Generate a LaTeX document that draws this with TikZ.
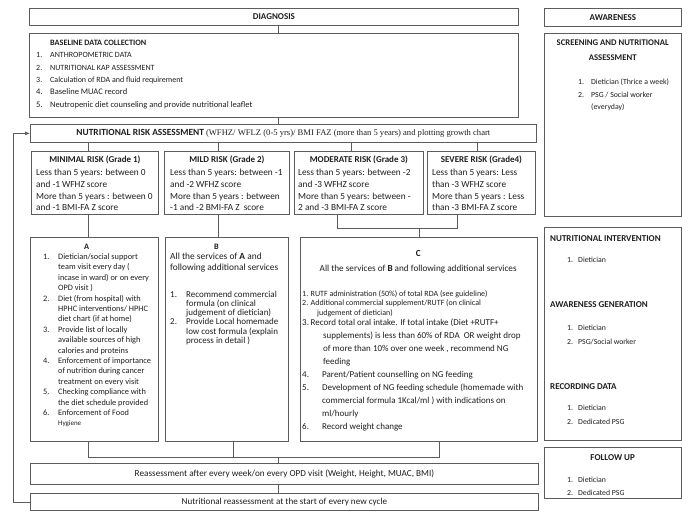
\documentclass[tikz,border=0pt]{standalone}
\usepackage{fontspec}
\setmainfont{Carlito}
\newfontfamily\timesfont{Liberation Serif}
\usetikzlibrary{arrows.meta}
\definecolor{linegray}{HTML}{5C5C5C}
\definecolor{inkgray}{HTML}{1E1E1E}
\newlength\numw
\newcommand\litem[2]{\hangindent=\numw\hangafter=1\noindent\hbox to\numw{#1\hfil}#2\par}
\newcommand\fs[2]{\fontsize{#1}{#2}\selectfont}

\begin{document}
\begin{tikzpicture}[x=1pt,y=-1pt,
  box/.style={draw=linegray,line width=0.8pt,inner sep=0pt,anchor=north west,text=inkgray},
  txt/.style={inner sep=0pt,anchor=north west,align=left,text=inkgray},
  para/.style={inner sep=0pt,anchor=north west,align=flush left,text=inkgray},
  rtitle/.style={inner sep=0pt,text=inkgray,font=\bfseries\fs{9}{11}},
  conn/.style={draw=linegray,line width=0.8pt}]
\useasboundingbox (0,0) rectangle (696,512);

% left column boxes
\node[box,minimum width=489pt,minimum height=17pt,font=\bfseries\fs{9}{11}] (diag) at (29,8) {DIAGNOSIS};
\node[box,minimum width=489pt,minimum height=84pt] (base) at (29,33) {};
\node[box,minimum width=506pt,minimum height=18pt,font=\fs{9.4}{11}] (nra) at (30,124)
  {\textbf{NUTRITIONAL RISK ASSESSMENT} {\timesfont\fs{8.6}{10}(WFHZ/ WFLZ (0-5 yrs)/ BMI FAZ (more than 5 years) and plotting growth chart}};
\node[box,minimum width=127pt,minimum height=63pt] (min) at (31,151) {};
\node[box,minimum width=125pt,minimum height=63pt] (mild) at (164,151) {};
\node[box,minimum width=129pt,minimum height=63pt] (mod) at (294,151) {};
\node[box,minimum width=108pt,minimum height=63pt] (sev) at (427,151) {};
\node[box,minimum width=128pt,minimum height=204pt] (abox) at (30,237) {};
\node[box,minimum width=123pt,minimum height=204pt] (bbox) at (165,237) {};
\node[box,minimum width=237pt,minimum height=204pt] (cbox) at (300,237) {};
\node[box,minimum width=508pt,minimum height=21pt,font=\fs{9.2}{10}] (reass) at (30,463)
  {Reassessment after every week/on every OPD visit (Weight, Height, MUAC, BMI)};
\node[box,minimum width=508pt,minimum height=17pt,font=\fs{9.1}{10}] (ren) at (30,493)
  {Nutritional reassessment at the start of every new cycle};

% right column boxes
\node[box,minimum width=137pt,minimum height=18pt,font=\bfseries\fs{9}{11}] (awr) at (544,8) {AWARENESS};
\node[box,minimum width=137pt,minimum height=183pt] (scr) at (544,33) {};
\node[box,minimum width=137pt,minimum height=213pt] (intv) at (544,227) {};
\node[box,minimum width=137pt,minimum height=51pt] (fol) at (544,447) {};

% baseline data
\node[para,text width=470pt] (baset) at (36,39.5) {\numw=14pt
  \fs{8.2}{11}\hspace*{14pt}\textbf{BASELINE DATA COLLECTION}\par
  \fs{8}{12.5}\litem{1.}{ANTHROPOMETRIC DATA}
  \litem{2.}{NUTRITIONAL KAP ASSESSMENT}
  \litem{3.}{Calculation of RDA and fluid requirement}
  \fs{8.5}{12.3}\litem{4.}{Baseline MUAC record}
  \litem{5.}{Neutropenic diet counseling and provide nutritional leaflet}};

% risk grades
\node[rtitle] (mint) at ([yshift=-9pt]min.north) {MINIMAL RISK (Grade 1)};
\node[rtitle] (mildt) at ([yshift=-9pt]mild.north) {MILD RISK (Grade 2)};
\node[rtitle] (modt) at ([yshift=-9pt]mod.north) {MODERATE RISK (Grade 3)};
\node[rtitle] (sevt) at ([yshift=-9pt]sev.north) {SEVERE RISK (Grade4)};
\node[txt,font=\fs{9.3}{11.7}] (minb) at (36,169)
  {Less than 5 years: between 0\\and -1 WFHZ score\\More than 5 years : between 0\\and -1 BMI-FA Z score};
\node[txt,font=\fs{9.3}{11.7}] (mildb) at (170,169)
  {Less than 5 years: between -1\\and -2 WFHZ score\\More than 5 years : between\\-1 and -2 BMI-FA Z\ \ score};
\node[txt,font=\fs{9.3}{11.7}] (modb) at (298,169)
  {Less than 5 years: between -2\\and -3 WFHZ score\\More than 5 years: between -\\2 and -3 BMI-FA Z score};
\node[txt,font=\fs{9.3}{11.7}] (sevb) at (432,169)
  {Less than 5 years: Less\\than -3 WFHZ score\\More than 5 years : Less\\than -3 BMI-FA Z score};

% services A, B, C
\node[para,text width=112pt] (at) at (43,243.5) {\numw=15pt
  \fs{8.3}{10.4}\hspace*{41pt}\textbf{A}\par
  \litem{1.}{Dietician/social support\newline team visit every day (\newline incase in ward) or on every\newline OPD visit )}
  \litem{2.}{Diet (from hospital) with\newline HPHC interventions/ HPHC\newline diet chart (if at home)}
  \litem{3.}{Provide list of locally\newline available sources of high\newline calories and proteins}
  \litem{4.}{Enforcement of importance\newline of nutrition during cancer\newline treatment on every visit}
  \litem{5.}{Checking compliance with\newline the diet schedule provided}
  \litem{6.}{Enforcement of Food\newline {\fs{7}{10.4}Hygiene}}};

\node[para,text width=118pt] (bt) at (170,243.5) {\numw=16pt
  \fs{8.3}{10.4}\hspace*{44pt}\textbf{B}\par
  \fs{9.4}{10.5}All the services of \textbf{A} and\newline following additional services\par\vskip18pt
  \fs{9}{9.2}\litem{1.}{Recommend commercial\newline formula (on clinical\newline judgement of dietician)}
  \litem{2.}{Provide Local homemade\newline low cost formula (explain\newline process in detail )}};

\node[para,text width=232pt] (ct) at (302,250) {
  {\centering\bfseries\fs{9.2}{11}C\par}
  {\centering\fs{9.2}{15}All the services of \textbf{B} and following additional services\par}
  \fs{8}{25}\numw=8.5pt\litem{1.}{RUTF administration (50\%) of total RDA (see guideline)}
  \fs{8}{9.7}\litem{2.}{Additional commercial supplement/RUTF (on clinical\newline\hspace*{6.5pt}judgement of dietician)}
  \fs{9}{13}\vskip-3pt
  \hangindent=21pt\hangafter=1\noindent\hbox to 8.5pt{3.\hfil}Record total oral intake. If total intake (Diet +RUTF+\newline supplements) is less than 60\% of RDA\ \ OR weight drop\newline of more than 10\% over one week , recommend NG\newline feeding\par
  \numw=20pt\litem{4.}{Parent/Patient counselling on NG feeding}
  \litem{5.}{Development of NG feeding schedule (homemade with\newline commercial formula 1Kcal/ml ) with indications on\newline ml/hourly}
  \litem{6.}{Record weight change}};

% right column texts
\node[para,text width=129pt] (scrt) at (548,39.3) {\fs{8.7}{15}\centering\bfseries SCREENING AND NUTRITIONAL\\ASSESSMENT\par};
\node[para,text width=100pt] (scrl) at (578,78.7) {\numw=13pt
  \fs{7.8}{12.5}\litem{1.}{Dietician (Thrice a week)}
  \litem{2.}{PSG / Social worker\newline (everyday)}};

\node[para,text width=130pt] (intt) at (550,235) {\numw=11pt
  \fs{9}{14}\textbf{NUTRITIONAL INTERVENTION}\par\vskip7pt
  \fs{7.8}{14}\hspace*{17pt}\hbox to\numw{1.\hfil}Dietician\par\vskip31pt
  \fs{9}{14}\textbf{AWARENESS GENERATION}\par\vskip9pt
  \fs{7.8}{14}\hspace*{17pt}\hbox to\numw{1.\hfil}Dietician\par
  \hspace*{17pt}\hbox to\numw{2.\hfil}PSG/Social worker\par\vskip31pt
  \fs{9}{14}\textbf{RECORDING DATA}\par\vskip7pt
  \fs{7.8}{14}\hspace*{17pt}\hbox to\numw{1.\hfil}Dietician\par
  \hspace*{17pt}\hbox to\numw{2.\hfil}Dedicated PSG\par};

\node[para,text width=129pt] (folt) at (548,454) {\fs{9}{11}\centering\bfseries FOLLOW UP\par};
\node[para,text width=100pt] (foll) at (567,476.7) {\numw=11pt
  \fs{7.8}{13}\litem{1.}{Dietician}
  \litem{2.}{Dedicated PSG}};

% connectors
\draw[conn] ([xshift=4.5pt]diag.south) -- ([xshift=4.5pt]base.north);
\draw[conn] ([xshift=4.5pt]base.south) -- ([xshift=4.5pt]base.south |- nra.north);
\draw[conn] ([xshift=-6.5pt]min.north) -- ([xshift=-6.5pt]min.north |- nra.south);
\draw[conn] ([xshift=-8.5pt]mild.north) -- ([xshift=-8.5pt]mild.north |- nra.south);
\draw[conn] ([xshift=-7.5pt]mod.north) -- ([xshift=-7.5pt]mod.north |- nra.south);
\draw[conn] ([xshift=-4pt]sev.north) -- ([xshift=-4pt]sev.north |- nra.south);
\draw[conn] ([xshift=-6.5pt]min.south) -- ([xshift=-6.5pt]min.south |- abox.north);
\draw[conn] ([xshift=-8.5pt]mild.south) -- ([xshift=-8.5pt]mild.south |- bbox.north);
\draw[conn] ([xshift=-21.5pt]mod.south) -- ++(0,14) -| ([xshift=-24pt]sev.south);
\draw[conn] (cbox.north) -- ++(0,-9);
\coordinate (jb) at (278,457);
\draw[conn] ([xshift=-6pt]abox.south) -- ++(0,16) -| ([xshift=20.5pt]cbox.south);
\draw[conn] ([xshift=6.5pt]bbox.south) -- ++(0,16);
\draw[conn] (jb) -- (reass.north -| jb);
\draw[conn] ([xshift=-6pt]reass.south) -- ([xshift=-6pt]reass.south |- ren.north);
\draw[conn,-{Latex[length=5pt,width=4pt]}] (ren.west) -- ++(-17,0) |- (nra.west);
\end{tikzpicture}
\end{document}
